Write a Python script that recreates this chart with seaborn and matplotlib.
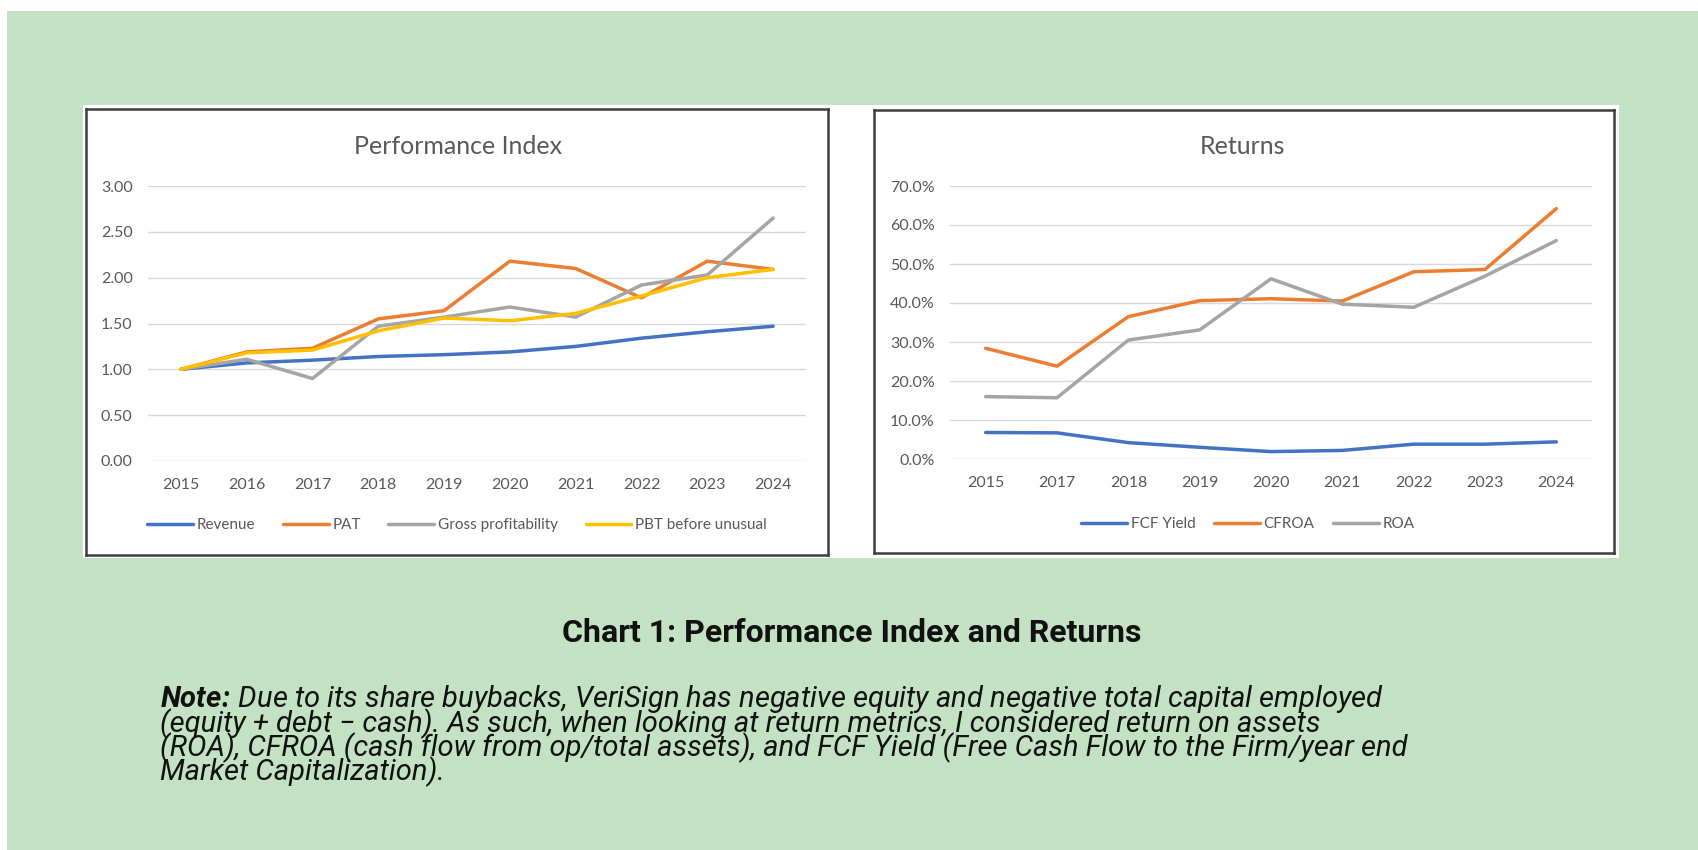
import matplotlib
matplotlib.use("Agg")
import numpy as np
import pandas as pd
import matplotlib.pyplot as plt
import seaborn as sns
from matplotlib.patches import Rectangle
from matplotlib.ticker import FuncFormatter
from matplotlib.font_manager import FontProperties

# Performance Index (2015 = 1.00)
perf_years = ['2015', '2016', '2017', '2018', '2019', '2020', '2021', '2022', '2023', '2024']
revenue = [1.00, 1.07, 1.10, 1.14, 1.16, 1.19, 1.25, 1.34, 1.41, 1.47]
pat = [1.00, 1.19, 1.23, 1.55, 1.64, 2.18, 2.10, 1.78, 2.18, 2.09]
gross_profitability = [1.00, 1.11, 0.90, 1.47, 1.57, 1.68, 1.57, 1.92, 2.03, 2.65]
pbt_before_unusual = [1.00, 1.18, 1.21, 1.42, 1.56, 1.53, 1.61, 1.80, 2.00, 2.09]

# Returns (%)
ret_years = ['2015', '2017', '2018', '2019', '2020', '2021', '2022', '2023', '2024']
fcf_yield = [6.8, 6.7, 4.2, 3.0, 1.9, 2.2, 3.8, 3.8, 4.4]
cfroa = [28.4, 23.8, 36.5, 40.6, 41.1, 40.5, 48.0, 48.6, 64.2]
roa = [16.0, 15.7, 30.5, 33.1, 46.2, 39.7, 38.9, 46.9, 56.0]

BLUE, ORANGE, GRAY, GOLD = '#4472C4', '#ED7D31', '#A5A5A5', '#FFC000'
TXT = '#595959'
W, H = 1699, 850


def box(x0, y0, x1, y1):
    return [x0 / W, 1 - y1 / H, (x1 - x0) / W, (y1 - y0) / H]


sns.set_theme(style="white")
plt.rcParams['font.family'] = ['Lato', 'DejaVu Sans']
# bold italic "Note" inside the note paragraph
plt.rcParams['mathtext.fontset'] = 'custom'
plt.rcParams['mathtext.bf'] = 'Roboto:italic:bold'

fig = plt.figure(figsize=(W / 100, H / 100), dpi=100, facecolor='white')
fig.patches.append(Rectangle((7 / W, 0), 1 - 7 / W, 1 - 11 / H, transform=fig.transFigure,
                             facecolor='#C3E1C3', edgecolor='none', zorder=-10))
fig.patches.append(Rectangle((83 / W, 1 - 558 / H), (1619 - 83) / W, (558 - 105) / H,
                             transform=fig.transFigure, facecolor='white', edgecolor='none', zorder=-9))


def panel(x0, y0, x1, y1):
    p = fig.add_axes(box(x0, y0, x1, y1))
    p.set_facecolor('white')
    p.set_xticks([])
    p.set_yticks([])
    for s in p.spines.values():
        s.set_color('#3d3d3d')
        s.set_linewidth(1.8)
    return p


def style(ax):
    ax.patch.set_alpha(0)
    sns.despine(ax=ax, left=True, bottom=True)
    ax.grid(axis='y', color='#D9D9D9', linewidth=1)
    ax.grid(axis='x', visible=False)
    ax.set_xlabel('')
    ax.set_ylabel('')
    ax.tick_params(axis='y', length=0, pad=11, labelsize=11.5, labelcolor=TXT)
    ax.tick_params(axis='x', length=0, pad=12, labelsize=11.5, labelcolor=TXT)


# left chart
panel(86, 109, 828, 555)
ax1 = fig.add_axes(box(148, 186, 806, 461))
for name, vals, col in [('Revenue', revenue, BLUE), ('PAT', pat, ORANGE),
                        ('Gross profitability', gross_profitability, GRAY),
                        ('PBT before unusual', pbt_before_unusual, GOLD)]:
    sns.lineplot(x=perf_years, y=vals, ax=ax1, color=col, linewidth=2.5, label=name,
                 solid_joinstyle='round', solid_capstyle='round')
ax1.set_xlim(-0.5, len(perf_years) - 0.5)
ax1.set_ylim(0, 3)
ax1.set_yticks(np.arange(0, 3.01, 0.5))
ax1.yaxis.set_major_formatter(FuncFormatter(lambda v, _: f'{v:.2f}'))
style(ax1)
ax1.legend(loc='center', bbox_to_anchor=(457 / W, 1 - 525 / H), bbox_transform=fig.transFigure,
           ncol=4, frameon=False, fontsize=11, handlelength=3.0, handletextpad=0.25,
           columnspacing=1.8, labelcolor=TXT)
fig.text(458 / W, 1 - 147 / H, 'Performance Index', ha='center', va='center',
         fontsize=18, color=TXT)

# right chart
panel(874, 110, 1614, 553)
ax2 = fig.add_axes(box(950, 186, 1592, 459))
for name, vals, col in [('FCF Yield', fcf_yield, BLUE), ('CFROA', cfroa, ORANGE), ('ROA', roa, GRAY)]:
    sns.lineplot(x=ret_years, y=vals, ax=ax2, color=col, linewidth=2.5, label=name,
                 solid_joinstyle='round', solid_capstyle='round')
ax2.set_xlim(-0.5, len(ret_years) - 0.5)
ax2.set_ylim(0, 70)
ax2.set_yticks(np.arange(0, 70.1, 10))
ax2.yaxis.set_major_formatter(FuncFormatter(lambda v, _: f'{v:.1f}%'))
style(ax2)
ax2.legend(loc='center', bbox_to_anchor=(1248 / W, 1 - 524 / H), bbox_transform=fig.transFigure,
           ncol=3, frameon=False, fontsize=11, handlelength=3.0, handletextpad=0.25,
           columnspacing=1.2, labelcolor=TXT)
fig.text(1243 / W, 1 - 147 / H, 'Returns', ha='center', va='center', fontsize=18, color=TXT)

# caption and note
fig.text(852 / W, 1 - 633 / H, 'Chart 1: Performance Index and Returns', ha='center',
         va='center', fontsize=23, fontweight='bold', family='Roboto', color='#111111')

note_lines = [
    r'$\mathbf{Note\!:\!}$ Due to its share buybacks, VeriSign has negative equity and negative total capital employed',
    '(equity + debt \u2212 cash). As such, when looking at return metrics, I considered return on assets',
    '(ROA), CFROA (cash flow from op/total assets), and FCF Yield (Free Cash Flow to the Firm/year end',
    'Market Capitalization).',
]
NOTE_SIZE = 21
first_base = 707
step = 24.4

renderer = fig.canvas.get_renderer()
fp = FontProperties(family='Roboto', style='italic', size=NOTE_SIZE)


def metrics(s, prop):
    return renderer.get_text_width_height_descent(s, prop, ismath=s.count('$') >= 2)


# solve matplotlib's multi-line layout for a line spacing giving the wanted step
_, lp_h, lp_d = metrics('lp', fp)
hs, ds = [], []
for ln in note_lines:
    _, h, d = metrics(ln, fp)
    hs.append(max(h, lp_h))
    ds.append(max(d, lp_d))
fixed = sum(ds[:-1])
coef = sum(max(lp_h - lp_d, hs[i] - ds[i]) for i in range(1, len(note_lines)))
spacing = (step * (len(note_lines) - 1) - fixed) / coef
last_base = first_base + step * (len(note_lines) - 1)

fig.text(160 / W, 1 - last_base / H, '\n'.join(note_lines), ha='left', va='baseline',
         fontproperties=fp, linespacing=spacing, color='#111111')

fig.savefig('out.png', dpi=100, facecolor=fig.get_facecolor())
